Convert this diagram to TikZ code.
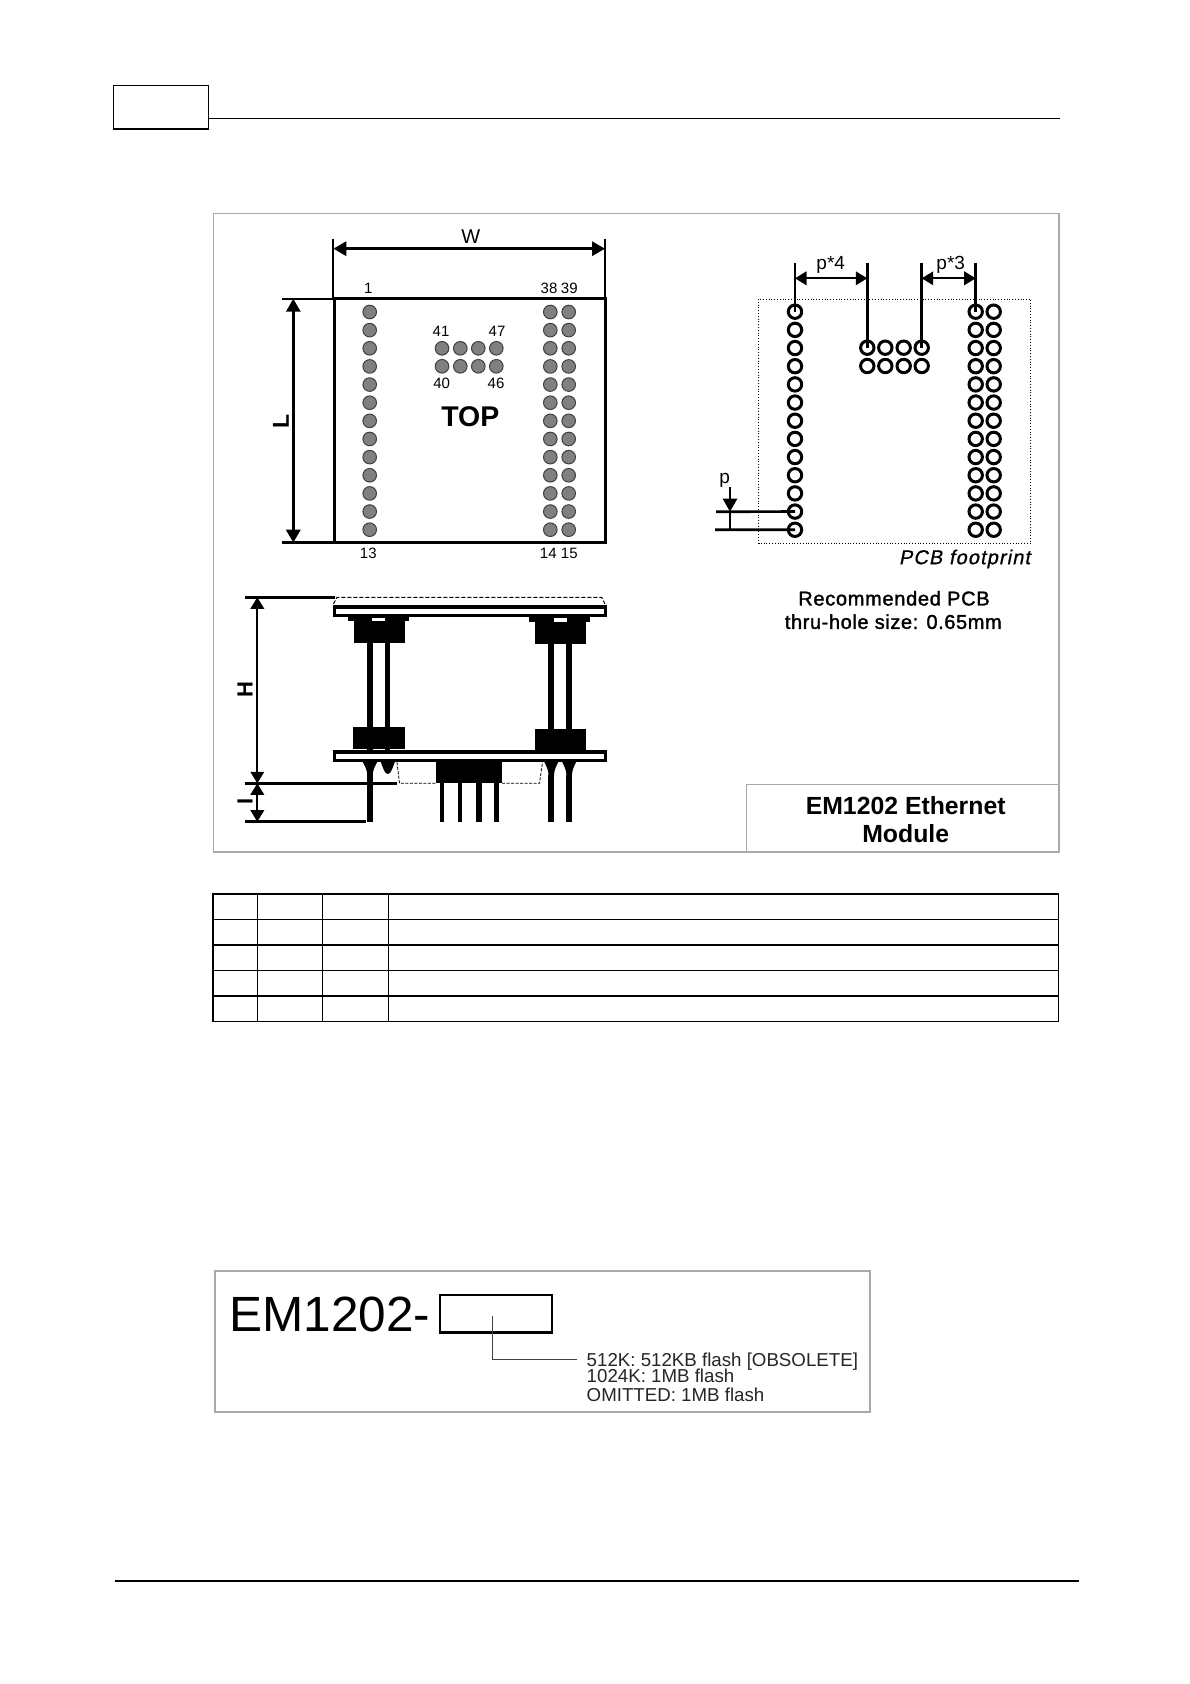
\documentclass[tikz,border=0pt]{standalone}
\usepackage{fontspec}
\setmainfont{Liberation Sans}
\newfontfamily\semifont[FakeBold=1.2]{Liberation Sans}
\newfontfamily\semiitfont[FakeBold=0.8,FakeSlant=0.2,LetterSpace=5.5]{Liberation Sans}
\newfontfamily\recaF[FakeBold=1.6,LetterSpace=3.5]{Liberation Sans}
\newfontfamily\recbF[FakeBold=1.6,LetterSpace=3]{Liberation Sans}
\usetikzlibrary{arrows.meta}
\newcommand{\fs}[1]{\fontsize{#1pt}{#1pt}\selectfont}
\newcommand{\funnelshape}[3]{% cx, half width top, bottom y
  \fill (#1-#2,762) .. controls (#1-5,766) and (#1-2.7,770) .. (#1-2.7,#3) -- (#1+2.7,#3) .. controls (#1+2.7,770) and (#1+5,766) .. (#1+#2,762) -- cycle;}
\definecolor{framegray}{HTML}{A9A9A9}
\definecolor{padgray}{HTML}{808080}
\tikzset{
  txt/.style={inner sep=0pt,outer sep=0pt,anchor=center,text=black},
  lab/.style={txt,font=\fs{15}},
  pad/.style={circle,draw=black!75,fill=padgray,line width=1pt,minimum size=13.6pt,inner sep=0pt},
  ring/.style={circle,draw=black,fill=white,line width=3pt,minimum size=13.4pt,inner sep=0pt},
  dim/.style={line width=3pt,{Triangle[length=13pt,width=14pt]}-{Triangle[length=13pt,width=14pt]}},
  dimthin/.style={line width=2pt,{Triangle[length=11.5pt,width=13.5pt]}-{Triangle[length=11.5pt,width=13.5pt]}},
  tick/.style={line width=1.8pt},
  tickthick/.style={line width=3pt},
  lead/.style={line width=2.7pt},
  tline/.style={line width=1.3pt},
  tlinethick/.style={line width=1.8pt},
}
\begin{document}
\begin{tikzpicture}[x=1pt,y=-1pt]
\useasboundingbox (0,0) rectangle (1190,1684);
\fill[white] (0,0) rectangle (1190,1684);

% header and footer
\draw[line width=1.3pt] (113.7,85.3) rectangle (208.7,129);
\draw[line width=2.2pt] (113,129) -- (209.4,129);
\draw[line width=1pt] (208.7,118.3) -- (1059.7,118.3);
\draw[line width=2pt] (115,1580.7) -- (1079,1580.7);

% main frame
\draw[framegray,line width=1.1pt] (213.3,213.3) rectangle (1059,852);
\draw[framegray,line width=1.1pt] (746.7,852) -- (746.7,784.7) -- (1059,784.7);
\node[txt,font=\bfseries\fs{24.8}] (title1) at (905.7,805.7) {EM1202 Ethernet};
\node[txt,font=\bfseries\fs{24.8}] (title2) at (905.7,833.3) {Module};

% top view
\draw[line width=3pt] (334,298.7) rectangle (605.7,542.7);
\coordinate (wl) at (333.3,248.7); \coordinate (wr) at (605,248.7);
\draw[tick] (333.3,239.3) -- (333.3,298);
\draw[tick] (605,239.3) -- (605,298);
\draw[dim] (wl) -- (wr);
\node[txt,font=\fs{20}] (wlabel) at (470.7,237) {W};
\coordinate (lt) at (293.3,298.7); \coordinate (lb) at (293.3,542.7);
\draw[tick] (281.7,298.7) -- (334,298.7);
\draw[tickthick] (281.7,542.7) -- (334,542.7);
\draw[dim] (lt) -- (lb);
\node[txt,font=\bfseries\fs{23},rotate=90] (llabel) at (281,421.7) {L};
\foreach \i in {0,...,12}{
  \pgfmathsetmacro\yy{312+\i*18.14}
  \node[pad] (pa\i) at (369.7,\yy) {};
  \node[pad] (pb\i) at (550.3,\yy) {};
  \node[pad] (pc\i) at (568.7,\yy) {};
}
\foreach \x [count=\k] in {442,460.3,478.3,496.3}{
  \node[pad] (pm\k) at (\x,348.3) {};
  \node[pad] (pn\k) at (\x,366.3) {};
}
\node[lab] (n1) at (368.3,288) {1};
\node[lab] (n38) at (549,288) {38};
\node[lab] (n39) at (569.3,288) {39};
\node[lab] (n41) at (441,331.7) {41};
\node[lab] (n47) at (497,331.7) {47};
\node[lab] (n40) at (441.7,383.3) {40};
\node[lab] (n46) at (496,383.3) {46};
\node[lab] (n13) at (368.3,553.3) {13};
\node[lab] (n14) at (548.3,553.3) {14};
\node[lab] (n15) at (569.3,553.3) {15};
\node[txt,font=\bfseries\fs{28.5}] (top) at (470.3,416.7) {TOP};

% side view
\draw[line width=1pt,dash pattern=on 4pt off 2pt] (333.5,604) -- (337,597.3) -- (601.7,597.3) -- (605,604);
\draw[tickthick] (245.3,597.3) -- (334.7,597.3);
\fill (332.7,605.3) rectangle (607.3,617.3);
\fill[white] (336,609.3) rectangle (604,613.7);
\fill (348.3,617) rectangle (409.3,621);
\fill (354.3,621) rectangle (404.7,642.7);
\fill[white] (372,617.7) rectangle (385.3,621);
\fill (529,617) rectangle (590,622.3);
\fill (535,622.3) rectangle (585.7,644);
\fill[white] (554.3,617.7) rectangle (566.7,622);
\fill (367.3,642) rectangle (372.7,750);
\fill (385.3,642) rectangle (390.3,750);
\fill (548.3,644) rectangle (554.3,750);
\fill (566.3,644) rectangle (571.7,750);
\fill (352.7,727.3) rectangle (404.7,749);
\fill (535,728.7) rectangle (585.7,751);
\fill (332.7,750.3) rectangle (607.3,762.3);
\fill[white] (336,753.7) rectangle (604,759);
\funnelshape{370}{7.3}{776}
\fill (367.3,775) rectangle (372.7,822.3);
\fill (387.8,762) -- (394.8,762) .. controls (392.5,768) and (391,774) .. (387.8,774) .. controls (384.6,774) and (383.1,768) .. (380.8,762) -- cycle;
\funnelshape{551.3}{7}{776}
\funnelshape{569.2}{7}{776}
\fill (548.3,775) rectangle (554.3,822.3);
\fill (566.3,775) rectangle (571.9,822.3);
\fill (436,762.3) rectangle (502,783.3);
\fill (439.7,783) rectangle (444.3,822.3);
\fill (457.7,783) rectangle (462.3,822.3);
\fill (476,783) rectangle (482,822.3);
\fill (494,783) rectangle (498.7,822.3);
\draw[line width=0.8pt,dash pattern=on 3pt off 1.5pt] (397,762.3) -- (399.5,783.3) -- (436,783.3);
\draw[line width=0.8pt,dash pattern=on 3pt off 1.5pt] (502,783.3) -- (539.5,783.3) -- (542.5,762.3);
\coordinate (ht) at (257.3,597.3); \coordinate (hb) at (257.3,783.3); \coordinate (ib) at (257.3,821.7);
\draw[tickthick] (245.3,783.3) -- (396.7,783.3);
\draw[tickthick] (245.3,821.7) -- (366,821.7);
\draw[dimthin] (ht) -- (hb);
\draw[dimthin] (hb) -- (ib);
\node[txt,font=\bfseries\fs{22},rotate=90] (hlabel) at (245,690) {H};
\node[txt,font=\bfseries\fs{22},rotate=90] (ilabel) at (245,801) {I};

% footprint
\draw[line width=0.8pt,dotted] (758.7,299) rectangle (1030.7,543.3);
\foreach \i in {0,...,12}{
  \pgfmathsetmacro\yy{311.7+\i*18.17}
  \node[ring] (ra\i) at (795,\yy) {};
  \node[ring] (rb\i) at (975.7,\yy) {};
  \node[ring] (rc\i) at (993.7,\yy) {};
}
\foreach \x [count=\k] in {867.3,885.3,903.7,921.7}{
  \node[ring] (rm\k) at (\x,347.7) {};
  \node[ring] (rn\k) at (\x,366) {};
}
\coordinate (d1) at (795,263.3); \coordinate (d2) at (867.3,263.3);
\coordinate (d3) at (921.7,263.3); \coordinate (d4) at (975.7,263.3);
\draw[lead] (d1) -- (ra0.center);
\draw[lead] (d2) -- (rm1.center);
\draw[lead] (d3) -- (rm4.center);
\draw[lead] (d4) -- (rb0.center);
\draw[dimthin] (795,278.3) -- (867.3,278.3);
\draw[dimthin] (921.7,278.3) -- (975.7,278.3);
\node[txt,font=\fs{19}] (p4) at (830.7,265) {p*4};
\node[txt,font=\fs{19}] (p3) at (950.7,265) {p*3};
\coordinate (q1) at (716,511.7); \coordinate (q2) at (715,529.7);
\coordinate (q3) at (730,486.7); \coordinate (q4) at (730,511.7); \coordinate (q5) at (730,529.7);
\draw[lead] (q1) -- (ra11.center);
\draw[lead] (q2) -- (ra12.center);
\draw[lead,-{Triangle[length=13pt,width=14pt]}] (q3) -- (q4);
\draw[lead] (q4) -- (q5);
\node[txt,font=\fs{19}] (plabel) at (724.7,480) {p};
\node[txt,anchor=east,font=\semiitfont\fs{20}] (foot) at (1030,559) {PCB footprint};
\node[txt,font=\recaF\fs{20}] (rec1) at (894,598.3) {Recommended PCB};
\node[txt,font=\recbF\fs{20}] (rec2) at (893.3,621.7) {thru-hole size: 0.65mm};

% table
\draw[tlinethick] (213,893.7) -- (1058.5,893.7);
\draw[tline] (213,919.3) -- (1058.5,919.3);
\draw[tlinethick] (213,944.7) -- (1058.5,944.7);
\draw[tline] (213,970.3) -- (1058.5,970.3);
\draw[tlinethick] (213,996) -- (1058.5,996);
\draw[tline] (213,1021.3) -- (1058.5,1021.3);
\draw[tline] (213,893) -- (213,1022);
\draw[line width=1.2pt] (257.5,893) -- (257.5,1022);
\draw[line width=1pt] (322,893) -- (322,1022);
\draw[line width=0.7pt] (388,893) -- (388,1022);
\draw[tline] (1058.5,893) -- (1058.5,1022);

% part number
\draw[framegray,line width=2.6pt] (215,1271) rectangle (870,1412);
\node[txt,anchor=west,font=\fs{49.5}] (pn) at (229.5,1314.5) {EM1202-};
\node[draw=black,line width=2.4pt,minimum width=112pt,minimum height=37.7pt,inner sep=0pt] (pbox) at (496,1313.8) {};
\coordinate (lead) at (492.7,1316); \coordinate (leadc) at (492.7,1359.3); \coordinate (leade) at (577.3,1359.3);
\draw[line width=1pt,black!75] (lead) -- (leadc) -- (leade);
\node[txt,anchor=west,font=\fs{18.7},text=black!85] (o1) at (586.7,1361.3) {512K: 512KB flash [OBSOLETE]};
\node[txt,anchor=west,font=\fs{18.7},text=black!85] (o2) at (586.7,1375.8) {1024K: 1MB flash};
\node[txt,anchor=west,font=\fs{18.7},text=black!85] (o3) at (586.7,1394.3) {OMITTED: 1MB flash};
\end{tikzpicture}
\end{document}
